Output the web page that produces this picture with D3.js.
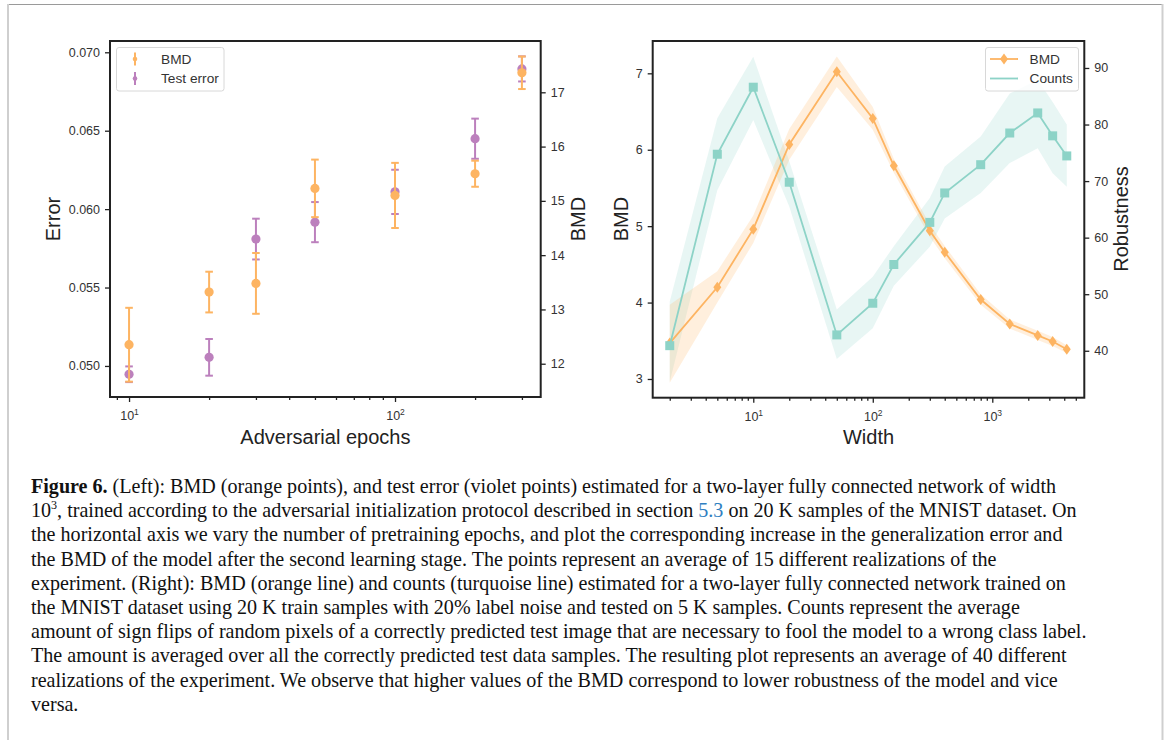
<!DOCTYPE html>
<html><head><meta charset="utf-8">
<script src="https://cdn.jsdelivr.net/npm/d3@7"></script>
<style>body{margin:0;background:#fff;} svg{display:block;}</style>
</head><body><svg id="c" width="1167" height="740"></svg>
<script>
// ---------- Data: left panel ----------
const epochs = [10, 20, 30, 50, 100, 200, 300];
const bmdLeft = [12.35, 13.32, 13.48, 15.23, 15.10, 15.50, 17.36];
const bmdLeftErr = [0.68, 0.375, 0.56, 0.53, 0.60, 0.24, 0.30];
const testError = [0.04947, 0.05055, 0.05809, 0.05917, 0.0611, 0.06449, 0.06894];
const testErrorErr = [0.0005, 0.00117, 0.0013, 0.00128, 0.00141, 0.00128, 0.0008];
const errorTicks = [0.050, 0.055, 0.060, 0.065, 0.070];
const bmdLeftTicks = [12, 13, 14, 15, 16, 17];
const epochMajor = [10, 100];
const epochMinor = [9, 20, 30, 40, 50, 60, 70, 80, 90, 200, 300];

// ---------- Data: right panel ----------
const widths = [2, 5, 10, 20, 50, 100, 150, 300, 400, 800, 1400, 2400, 3200, 4200];
const bmdRight = [3.47, 4.20, 4.96, 6.07, 7.02, 6.41, 5.79, 4.94, 4.66, 4.04, 3.72, 3.57, 3.49, 3.39];
const bmdLo = [2.95, 4.00, 4.78, 5.87, 6.82, 6.26, 5.70, 4.86, 4.58, 3.97, 3.66, 3.51, 3.43, 3.34];
const bmdHi = [3.97, 4.41, 5.14, 6.27, 7.22, 6.56, 5.88, 5.02, 4.74, 4.11, 3.78, 3.63, 3.55, 3.44];
const counts = [40.9, 74.75, 86.6, 69.8, 42.8, 48.4, 55.25, 62.7, 67.9, 72.9, 78.5, 82.05, 78.0, 74.45];
const countsLo = [34.5, 68.4, 80.8, 65.5, 38.55, 44.0, 51.5, 58.4, 63.4, 67.9, 73.2, 75.8, 71.4, 69.0];
const countsHi = [48.7, 81.1, 92.0, 73.5, 47.3, 53.1, 58.5, 67.0, 72.6, 77.9, 85.5, 87.9, 84.0, 80.0];
const bmdRightTicks = [3, 4, 5, 6, 7];
const robustTicks = [40, 50, 60, 70, 80, 90];
const widthMajor = [10, 100, 1000];
const widthMinor = [2,3,4,5,6,7,8,9,20,30,40,50,60,70,80,90,200,300,400,500,600,700,800,900,2000,3000,4000,5000];

// ---------- Caption ----------
const captionLines = [
  [{t:"Figure 6.", b:true}, {t:" (Left): BMD (orange points), and test error (violet points) estimated for a two-layer fully connected network of width"}],
  [{t:"10"}, {t:"3", sup:true}, {t:", trained according to the adversarial initialization protocol described in section "}, {t:"5.3", link:true}, {t:" on 20 K samples of the MNIST dataset. On"}],
  [{t:"the horizontal axis we vary the number of pretraining epochs, and plot the corresponding increase in the generalization error and"}],
  [{t:"the BMD of the model after the second learning stage. The points represent an average of 15 different realizations of the"}],
  [{t:"experiment. (Right): BMD (orange line) and counts (turquoise line) estimated for a two-layer fully connected network trained on"}],
  [{t:"the MNIST dataset using 20 K train samples with 20% label noise and tested on 5 K samples. Counts represent the average"}],
  [{t:"amount of sign flips of random pixels of a correctly predicted test image that are necessary to fool the model to a wrong class label."}],
  [{t:"The amount is averaged over all the correctly predicted test data samples. The resulting plot represents an average of 40 different"}],
  [{t:"realizations of the experiment. We observe that higher values of the BMD correspond to lower robustness of the model and vice"}],
  [{t:"versa."}]
];
const captionLineEnds = [1057, 1075, 1075, 998, 1075, 1019, 1073, 1063, 1060];

const ORANGE = "#fdb462", TEAL = "#8dd3c7", PURPLE = "#bc80bd";
const FONT = "'Liberation Sans', Arial, sans-serif";
const svg = d3.select("#c");

// page frame
svg.append("line").attr("x1", 8).attr("x2", 1163).attr("y1", 4.5).attr("y2", 4.5).attr("stroke", "#9a9a9a").attr("stroke-width", 1);
svg.append("line").attr("x1", 8).attr("x2", 8).attr("y1", 4).attr("y2", 740).attr("stroke", "#cfcfcf").attr("stroke-width", 2);
svg.append("line").attr("x1", 1162.5).attr("x2", 1162.5).attr("y1", 4).attr("y2", 740).attr("stroke", "#cfcfcf").attr("stroke-width", 2);

function styleAxis(g) {
  g.select(".domain").remove();
  g.selectAll(".tick line").attr("stroke", "#222").attr("stroke-width", 1.3);
  g.selectAll(".tick text").attr("fill", "#333").style("font-family", FONT).style("font-size", "12.5px");
}
function powLabels(g) {
  g.selectAll(".tick text").each(function(d) {
    const t = d3.select(this);
    const e = Math.round(Math.log10(d));
    t.text(null);
    t.append("tspan").text("10");
    t.append("tspan").attr("dy", "-0.55em").style("font-size", "8.5px").text(e);
  });
}

// ================= LEFT PANEL =================
const L = {x0: 110, x1: 540.7, y0: 41, y1: 397};
const xL = d3.scaleLog().domain([8.48, 353]).range([L.x0, L.x1]);
const yErr = d3.scaleLinear().domain([0.04802, 0.07072]).range([L.y1, L.y0]);
const yBmdL = d3.scaleLinear().domain([11.387, 17.945]).range([L.y1, L.y0]);
const gL = svg.append("g");

gL.append("g").attr("transform", `translate(${L.x0},0)`)
  .call(d3.axisLeft(yErr).tickValues(errorTicks).tickFormat(d3.format(".3f")).tickSize(5).tickPadding(5)).call(styleAxis);
gL.append("g").attr("transform", `translate(${L.x1},0)`)
  .call(d3.axisRight(yBmdL).tickValues(bmdLeftTicks).tickFormat(d3.format("d")).tickSize(5).tickPadding(5)).call(styleAxis);
gL.append("g").attr("transform", `translate(0,${L.y1})`)
  .call(d3.axisBottom(xL).tickValues(epochMajor).tickSize(5).tickPadding(9)).call(styleAxis).call(powLabels);
gL.append("g").attr("transform", `translate(0,${L.y1})`)
  .call(d3.axisBottom(xL).tickValues(epochMinor).tickFormat("").tickSize(3)).call(styleAxis);

function errorbars(g, xs, ys, es, xScale, yScale, color) {
  const grp = g.append("g");
  xs.forEach((xv, i) => {
    const cx = xScale(xv), lo = yScale(ys[i] - es[i]), hi = yScale(ys[i] + es[i]);
    grp.append("line").attr("x1", cx).attr("x2", cx).attr("y1", lo).attr("y2", hi).attr("stroke", color).attr("stroke-width", 2);
    [lo, hi].forEach(yy => grp.append("line").attr("x1", cx - 3.8).attr("x2", cx + 3.8).attr("y1", yy).attr("y2", yy).attr("stroke", color).attr("stroke-width", 2));
    grp.append("circle").attr("cx", cx).attr("cy", yScale(ys[i])).attr("r", 4.6).attr("fill", color);
  });
}
errorbars(gL, epochs, testError, testErrorErr, xL, yErr, PURPLE);
errorbars(gL, epochs, bmdLeft, bmdLeftErr, xL, yBmdL, ORANGE);

gL.append("rect").attr("x", L.x0).attr("y", L.y0).attr("width", L.x1 - L.x0).attr("height", L.y1 - L.y0)
  .attr("fill", "none").attr("stroke", "#222").attr("stroke-width", 2);

// legend left
const lgL = gL.append("g");
lgL.append("rect").attr("x", 116.5).attr("y", 47.5).attr("width", 107.5).attr("height", 43.5).attr("rx", 2.5)
  .attr("fill", "white").attr("fill-opacity", 0.8).attr("stroke", "#d8d8d8").attr("stroke-width", 1);
[[ORANGE, "BMD", 59], [PURPLE, "Test error", 78.5]].forEach(([c, t, yy]) => {
  lgL.append("line").attr("x1", 135).attr("x2", 135).attr("y1", yy - 6.5).attr("y2", yy + 6.5).attr("stroke", c).attr("stroke-width", 2);
  lgL.append("circle").attr("cx", 135).attr("cy", yy).attr("r", 2.3).attr("fill", c);
  lgL.append("text").attr("x", 161).attr("y", yy + 4.7).text(t).attr("fill", "#333").style("font-family", FONT).style("font-size", "13.7px");
});

// axis labels left
gL.append("text").attr("transform", `translate(60,219) rotate(-90)`).attr("text-anchor", "middle").text("Error")
  .attr("fill", "#222").style("font-family", FONT).style("font-size", "20px");
gL.append("text").attr("transform", `translate(585,219) rotate(-90)`).attr("text-anchor", "middle").text("BMD")
  .attr("fill", "#222").style("font-family", FONT).style("font-size", "20px");
gL.append("text").attr("x", (L.x0 + L.x1) / 2).attr("y", 444).attr("text-anchor", "middle").text("Adversarial epochs")
  .attr("fill", "#222").style("font-family", FONT).style("font-size", "20px");

// ================= RIGHT PANEL =================
const R = {x0: 652.7, x1: 1084.3, y0: 41, y1: 397.7};
const xR = d3.scaleLog().domain([1.44, 5888]).range([R.x0, R.x1]);
const yBmdR = d3.scaleLinear().domain([2.755, 7.423]).range([R.y1, R.y0]);
const yRob = d3.scaleLinear().domain([31.7, 94.77]).range([R.y1, R.y0]);
const gR = svg.append("g");

gR.append("g").attr("transform", `translate(${R.x0},0)`)
  .call(d3.axisLeft(yBmdR).tickValues(bmdRightTicks).tickFormat(d3.format("d")).tickSize(5).tickPadding(5)).call(styleAxis);
gR.append("g").attr("transform", `translate(${R.x1},0)`)
  .call(d3.axisRight(yRob).tickValues(robustTicks).tickFormat(d3.format("d")).tickSize(5).tickPadding(5)).call(styleAxis);
gR.append("g").attr("transform", `translate(0,${R.y1})`)
  .call(d3.axisBottom(xR).tickValues(widthMajor).tickSize(5).tickPadding(9)).call(styleAxis).call(powLabels);
gR.append("g").attr("transform", `translate(0,${R.y1})`)
  .call(d3.axisBottom(xR).tickValues(widthMinor).tickFormat("").tickSize(3)).call(styleAxis);

const idx = d3.range(widths.length);
// bands
gR.append("path").datum(idx).attr("fill", TEAL).attr("fill-opacity", 0.2)
  .attr("d", d3.area().x(i => xR(widths[i])).y0(i => yRob(countsLo[i])).y1(i => yRob(countsHi[i])));
gR.append("path").datum(idx).attr("fill", ORANGE).attr("fill-opacity", 0.22)
  .attr("d", d3.area().x(i => xR(widths[i])).y0(i => yBmdR(bmdLo[i])).y1(i => yBmdR(bmdHi[i])));
// lines
gR.append("path").datum(idx).attr("fill", "none").attr("stroke", ORANGE).attr("stroke-width", 1.8)
  .attr("d", d3.line().x(i => xR(widths[i])).y(i => yBmdR(bmdRight[i])));
const diamond = "M0,-5.5L4,0L0,5.5L-4,0Z";
gR.append("g").selectAll("path").data(idx).join("path")
  .attr("transform", i => `translate(${xR(widths[i])},${yBmdR(bmdRight[i])})`).attr("d", diamond).attr("fill", ORANGE);
gR.append("path").datum(idx).attr("fill", "none").attr("stroke", TEAL).attr("stroke-width", 1.8)
  .attr("d", d3.line().x(i => xR(widths[i])).y(i => yRob(counts[i])));
gR.append("g").selectAll("rect").data(idx).join("rect")
  .attr("x", i => xR(widths[i]) - 4.5).attr("y", i => yRob(counts[i]) - 4.5).attr("width", 9).attr("height", 9).attr("fill", TEAL);

gR.append("rect").attr("x", R.x0).attr("y", R.y0).attr("width", R.x1 - R.x0).attr("height", R.y1 - R.y0)
  .attr("fill", "none").attr("stroke", "#222").attr("stroke-width", 2);

// legend right
const lgR = gR.append("g");
lgR.append("rect").attr("x", 985.5).attr("y", 47.5).attr("width", 93).attr("height", 43.5).attr("rx", 2.5)
  .attr("fill", "white").attr("fill-opacity", 0.8).attr("stroke", "#d8d8d8").attr("stroke-width", 1);
lgR.append("line").attr("x1", 990).attr("x2", 1018).attr("y1", 59).attr("y2", 59).attr("stroke", ORANGE).attr("stroke-width", 1.8);
lgR.append("path").attr("transform", "translate(1004,59)").attr("d", diamond).attr("fill", ORANGE);
lgR.append("line").attr("x1", 990).attr("x2", 1018).attr("y1", 78.5).attr("y2", 78.5).attr("stroke", TEAL).attr("stroke-width", 1.8);
[["BMD", 59], ["Counts", 78.5]].forEach(([t, yy]) => {
  lgR.append("text").attr("x", 1029.5).attr("y", yy + 4.7).text(t).attr("fill", "#333").style("font-family", FONT).style("font-size", "13.7px");
});

gR.append("text").attr("transform", `translate(628,219) rotate(-90)`).attr("text-anchor", "middle").text("BMD")
  .attr("fill", "#222").style("font-family", FONT).style("font-size", "20px");
gR.append("text").attr("transform", `translate(1128,219) rotate(-90)`).attr("text-anchor", "middle").text("Robustness")
  .attr("fill", "#222").style("font-family", FONT).style("font-size", "20px");
gR.append("text").attr("x", (R.x0 + R.x1) / 2).attr("y", 444).attr("text-anchor", "middle").text("Width")
  .attr("fill", "#222").style("font-family", FONT).style("font-size", "20px");

// ================= CAPTION =================
const cap = svg.append("g");
const capTexts = [];
captionLines.forEach((parts, li) => {
  const t = cap.append("text").attr("x", 31).attr("y", 493 + li * 24.2)
    .style("font-family", "'Liberation Serif', 'Times New Roman', serif").style("font-size", "20px").attr("fill", "#111");
  parts.forEach(p => {
    const s = t.append("tspan").text(p.t);
    if (p.b) s.style("font-weight", "bold");
    if (p.link) s.attr("fill", "#2f7fc1");
  });
  capTexts.push(t);
});
// scale font so the caption lines span, on average, the widths seen in the figure
let measured = 0, target = 0;
captionLineEnds.forEach((e, i) => { measured += capTexts[i].node().getComputedTextLength(); target += e - 31; });
const fs = 20 * target / measured;
capTexts.forEach((t, li) => {
  t.style("font-size", fs + "px");
  t.selectAll("tspan").each(function(d, i) {
    const p = captionLines[li][i];
    const s = d3.select(this);
    if (p.sup) s.style("font-size", (fs * 0.6) + "px").attr("dy", -0.42 * fs);
    else if (i > 0 && captionLines[li][i - 1].sup) s.attr("dy", 0.42 * fs);
  });
});
</script></body></html>
